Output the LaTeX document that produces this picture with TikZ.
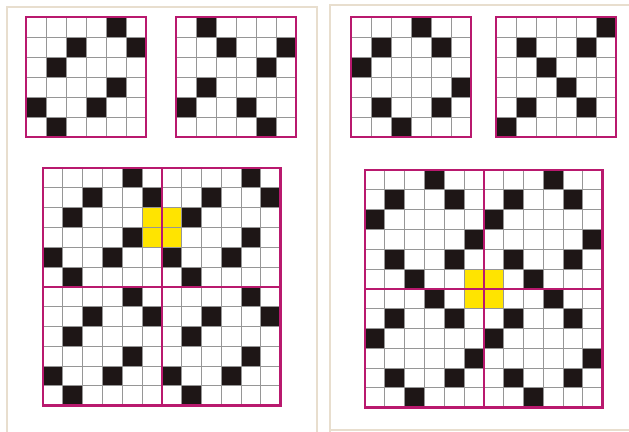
\documentclass[tikz,border=0pt]{standalone}
\usetikzlibrary{positioning}
\definecolor{gridmag}{RGB}{185,25,110}
\definecolor{gridgray}{RGB}{150,150,150}
\definecolor{cellblack}{RGB}{30,22,22}
\definecolor{panelline}{RGB}{232,222,206}
\definecolor{hiyellow}{RGB}{255,228,0}

% one n x n grid with black cells, given as row/col pairs
\newcommand{\patgrid}[4]{%
  \begin{scope}[shift={(#1)},x=#2*0.02cm,y=-#2*0.02cm]
    \foreach \r/\c in {#4} \fill[cellblack] (\c,\r) rectangle ++(1,1);
    \foreach \i in {1,...,5} \draw[thingrid] (\i,0) -- (\i,#3) (0,\i) -- (#3,\i);
    \draw[magframe] (0,0) rectangle (#3,#3);
  \end{scope}}

% 2 x 2 tiling of a 6 x 6 pattern, with the yellow 2 x 2 block
\newcommand{\tilegrid}[4]{%
  \begin{scope}[shift={(#1)},x=#2*0.02cm,y=-#2*0.02cm]
    \foreach \dr in {0,6} \foreach \dc in {0,6}
      \foreach \r/\c in {#4} \fill[cellblack] (\c+\dc,\r+\dr) rectangle ++(1,1);
    \fill[hiyellow] (5,#3) rectangle ++(2,2);
    \foreach \i in {1,...,11} \draw[thingrid] (\i,0) -- (\i,12) (0,\i) -- (12,\i);
    \draw[magframe] (6,0) -- (6,12) (0,6) -- (12,6);
    \draw[magframe] (0,0) rectangle (12,12);
  \end{scope}}

\begin{document}
\begin{tikzpicture}[
  x=0.02cm, y=-0.02cm,
  thingrid/.style={gridgray,line width=0.45pt},
  magframe/.style={gridmag,line width=1.3pt},
  panel/.style={panelline,line width=0.8pt}
]
  \useasboundingbox (0,0) rectangle (629,432);

  % panels
  \draw[panel] (7,432) -- (7,7) -- (317,7) -- (317,432);
  \draw[panel] (330,432) -- (330,5) -- (640,5);
  \draw[panel] (330,430) -- (640,430);

  % grid corners
  \coordinate (gridA) at (26,17);
  \coordinate (gridB) at (176,17);
  \coordinate (gridC) at (351,17);
  \coordinate (gridD) at (496,17);
  \coordinate (bigL) at (43,168);
  \coordinate (bigR) at (365,170);

  % left panel
  \patgrid{gridA}{20}{6}{0/4,1/2,1/5,2/1,3/4,4/0,4/3,5/1}
  \patgrid{gridB}{20}{6}{0/1,1/2,1/5,2/4,3/1,4/0,4/3,5/4}
  \tilegrid{bigL}{19.8}{2}{0/4,1/2,1/5,2/1,3/4,4/0,4/3,5/1}

  % right panel
  \patgrid{gridC}{20}{6}{0/3,1/1,1/4,2/0,3/5,4/1,4/4,5/2}
  \patgrid{gridD}{20}{6}{0/5,1/1,1/4,2/2,3/3,4/1,4/4,5/0}
  \tilegrid{bigR}{19.8}{5}{0/3,1/1,1/4,2/0,3/5,4/1,4/4,5/2}
\end{tikzpicture}
\end{document}
